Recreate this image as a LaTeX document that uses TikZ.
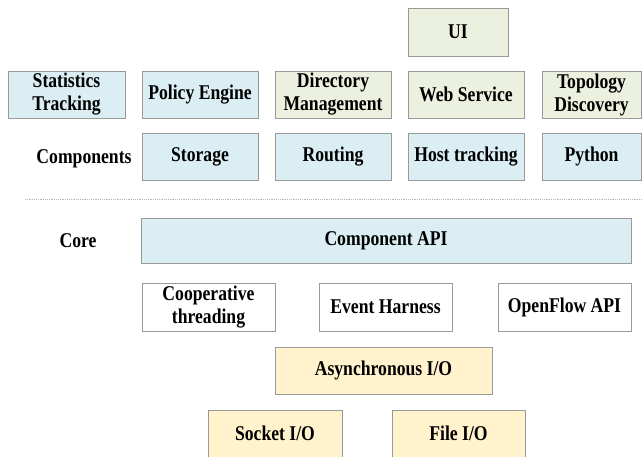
\documentclass[tikz,border=0pt]{standalone}
\usepackage{fontspec}
\setmainfont{Liberation Serif}[FakeStretch=0.84,BoldFont={Liberation Serif Bold},BoldFeatures={FakeStretch=0.84}]
\definecolor{boxblue}{HTML}{DAEEF3}
\definecolor{boxgreen}{HTML}{EBF1DE}
\definecolor{boxyellow}{HTML}{FFF2CC}
\definecolor{boxline}{HTML}{9A9A9A}
\begin{document}
\begin{tikzpicture}[x=1pt,y=-1pt,
		font=\fontsize{21}{23}\selectfont\bfseries,
		box/.style={draw=boxline,line width=1pt,align=center,inner sep=0pt},
		bluebox/.style={box,fill=boxblue},
		greenbox/.style={box,fill=boxgreen},
		yellowbox/.style={box,fill=boxyellow},
		whitebox/.style={box,fill=white}]
		\useasboundingbox (0,0) rectangle (642,456);

		% components
		\node[greenbox,minimum width=100pt,minimum height=48pt] (ui) at (458,32) {UI};
		\node[bluebox,minimum width=117pt,minimum height=47pt] (stats) at (66.5,94.5) {Statistics\\Tracking};
		\node[bluebox,minimum width=116pt,minimum height=47pt] (policy) at (200,94.5) {Policy Engine};
		\node[greenbox,minimum width=116pt,minimum height=47pt] (dirmgmt) at (333,94.5) {Directory\\Management};
		\node[greenbox,minimum width=116pt,minimum height=47pt] (websvc) at (466,94.5) {Web Service};
		\node[greenbox,minimum width=99pt,minimum height=47pt] (topo) at (591.5,94.5) {Topology\\Discovery};

		\node (complabel) at (84,159) {Components};
		\node[bluebox,minimum width=116pt,minimum height=47pt] (storage) at (200,156.5) {Storage};
		\node[bluebox,minimum width=116pt,minimum height=47pt] (routing) at (333,156.5) {Routing};
		\node[bluebox,minimum width=116pt,minimum height=47pt] (hosttrack) at (466,156.5) {Host tracking};
		\node[bluebox,minimum width=99pt,minimum height=47pt] (python) at (591.5,156.5) {Python};

		\coordinate (sepleft) at (25,199.5);
		\coordinate (sepright) at (642,199.5);
		\draw[boxline!70,line width=1.2pt,densely dotted] (sepleft) -- (sepright);

		% core
		\node (corelabel) at (78,241) {Core};
		\node[bluebox,minimum width=490pt,minimum height=45pt] (compapi) at (386,240.5) {Component API};

		\node[whitebox,minimum width=133pt,minimum height=48pt] (coop) at (208.5,307) {Cooperative\\threading};
		\node[whitebox,minimum width=133pt,minimum height=48pt] (evharness) at (385.5,307) {Event Harness};
		\node[whitebox,minimum width=133pt,minimum height=48pt] (ofapi) at (564.5,307) {OpenFlow API};

		\node[yellowbox,minimum width=217pt,minimum height=47pt] (asyncio) at (383.5,370.5) {Asynchronous I/O};
		\node[yellowbox,minimum width=134pt,minimum height=47pt] (sockio) at (275,433.5) {Socket I/O};
		\node[yellowbox,minimum width=133pt,minimum height=47pt] (fileio) at (458.5,433.5) {File I/O};
	\end{tikzpicture}
\end{document}
